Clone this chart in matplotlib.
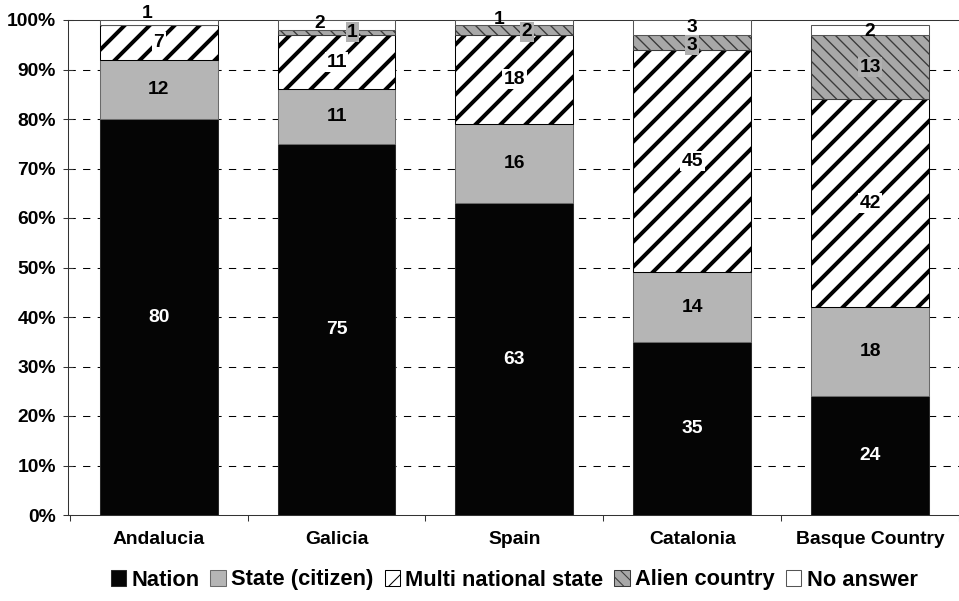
import numpy as np
import matplotlib
matplotlib.use("Agg")
import matplotlib.pyplot as plt
from matplotlib.patches import Patch

plt.rcParams['font.family'] = ['Liberation Sans', 'DejaVu Sans']
plt.rcParams['font.weight'] = 'bold'

# ---- data -------------------------------------------------------------
regions = ["Andalucia", "Galicia", "Spain", "Catalonia", "Basque Country"]
series_names = ["Nation", "State (citizen)", "Multi national state",
                "Alien country", "No answer"]
nation = [80, 75, 63, 35, 24]
state_citizen = [12, 11, 16, 14, 18]
multi_national = [7, 11, 18, 45, 42]
alien_country = [0, 1, 2, 3, 13]
no_answer = [1, 2, 1, 3, 2]
y_ticks = [0, 10, 20, 30, 40, 50, 60, 70, 80, 90, 100]

# ---- styling ----------------------------------------------------------
DPI = 75
fig = plt.figure(figsize=(959 / DPI, 601 / DPI), dpi=DPI)
W, H = 959, 601
ax = fig.add_axes([68 / W, 86 / H, 1 - 68 / W, (515 - 20) / H])

x = np.arange(len(regions))
bar_w = 0.663
edge = '#2a2a2a'

styles = [
    dict(facecolor='#050505', edgecolor=edge, hatch=None, hlw=1.0),
    dict(facecolor='#b5b5b5', edgecolor='#6a6a6a', hatch=None, hlw=1.0),
    dict(facecolor='white', edgecolor='black', hatch='/', hlw=3.8),
    dict(facecolor='#a8a8a8', edgecolor='#3a3a3a', hatch='\\\\', hlw=1.3),
    dict(facecolor='white', edgecolor='#555555', hatch=None, hlw=1.0),
]
label_style = [
    dict(color='white', bbox=None),
    dict(color='black', bbox=None),
    dict(color='black', bbox=dict(boxstyle='square,pad=0.08', fc='white', ec='none')),
    dict(color='black', bbox=dict(boxstyle='square,pad=0.08', fc='#b0b0b0', ec='none')),
    dict(color='black', bbox=None),
]
# small nudges (x in category units, y in percent) for crowded labels
nudges = {(0, 4): (-0.065, 1.8), (1, 4): (-0.095, 0.3), (1, 3): (0.09, 0.0),
          (2, 4): (-0.085, 0.5), (2, 3): (0.07, -0.4), (3, 3): (0.0, -0.6),
          (4, 4): (0.0, -0.3)}

all_series = [nation, state_citizen, multi_national, alien_country, no_answer]
bottom = np.zeros(len(regions))
handles = []
for si, vals in enumerate(all_series):
    vals = np.asarray(vals, dtype=float)
    st = styles[si]
    bars = ax.bar(x, vals, bar_w, bottom=bottom, color=st['facecolor'],
                  edgecolor=st['edgecolor'], linewidth=1.0,
                  hatch=st['hatch'], zorder=3)
    for p in bars:
        if hasattr(p, 'set_hatch_linewidth'):
            p.set_hatch_linewidth(st['hlw'])
    h = Patch(facecolor=st['facecolor'], edgecolor=st['edgecolor'],
              hatch=st['hatch'], linewidth=1.0)
    if hasattr(h, 'set_hatch_linewidth'):
        h.set_hatch_linewidth(min(st['hlw'], 2.0))
    handles.append(h)
    for ci, v in enumerate(vals):
        if v <= 0:
            continue
        ls = label_style[si]
        dx, dy = nudges.get((ci, si), (0.0, 0.0))
        ax.text(x[ci] + dx, bottom[ci] + v / 2 + dy,
                f"{int(v)}", ha='center', va='center', fontsize=18.5,
                fontweight='bold', color=ls['color'], bbox=ls['bbox'],
                zorder=5)
    bottom += vals

# ---- axes -------------------------------------------------------------
ax.set_ylim(0, 100)
ax.set_xlim(-91.5 / 179.5, (W - 159.5) / 179.5)
ax.set_yticks(y_ticks)
ax.set_yticklabels([f"{t}%" for t in y_ticks])
ax.set_xticks(x)
ax.set_xticklabels(regions)
ax.set_xticks(np.arange(-0.5, len(regions), 1.0), minor=True)
ax.tick_params(axis='y', direction='inout', length=9.5, width=1.0,
               color='#333333', pad=7, labelsize=18.5)
ax.tick_params(axis='x', which='major', length=0, pad=15, labelsize=18.5)
ax.tick_params(axis='x', which='minor', direction='out', length=6,
               width=1.0, color='#333333')
for lab in ax.get_xticklabels() + ax.get_yticklabels():
    lab.set_fontweight('bold')

for t in y_ticks[1:-1]:
    ax.axhline(t, color='black', lw=1.0, ls=(0, (7, 7)), zorder=1)

for s in ['left', 'bottom', 'top']:
    ax.spines[s].set_color('#333333')
    ax.spines[s].set_linewidth(1.0)
ax.spines['right'].set_visible(False)

fig.legend(handles, series_names, loc='center', ncol=5,
           bbox_to_anchor=(514 / W, 1 - 580 / H), frameon=False,
           prop=dict(size=21, weight='bold'), handlelength=0.7,
           handleheight=0.7, handletextpad=0.25, columnspacing=0.5,
           borderpad=0.0)

fig.savefig("out.png", dpi=DPI)
